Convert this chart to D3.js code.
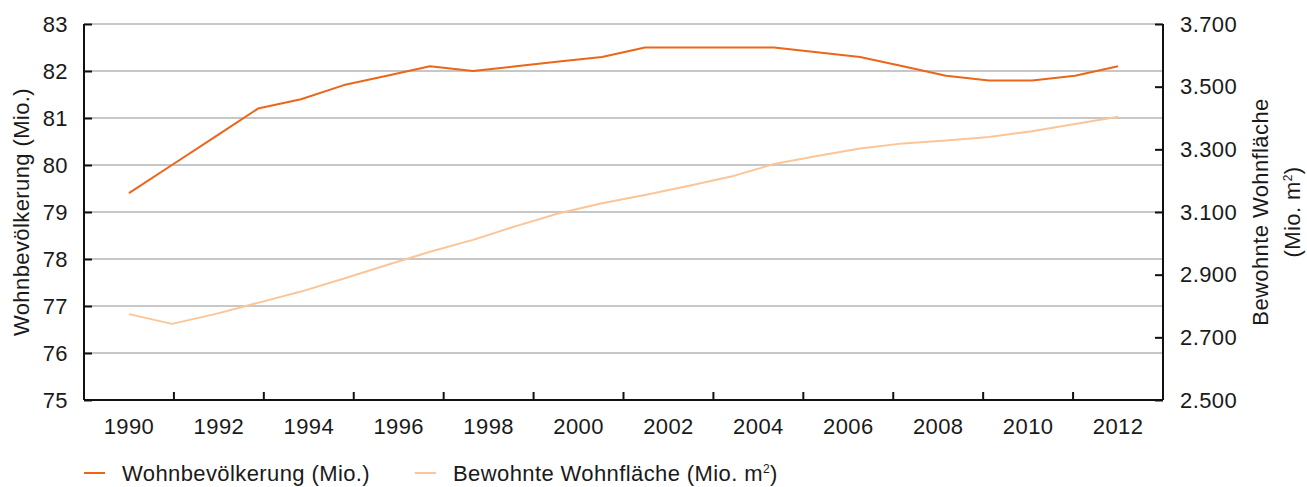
<!DOCTYPE html>
<html lang="de">
<head>
<meta charset="utf-8">
<script src="https://cdn.jsdelivr.net/npm/d3@7"></script>
<style>
  html, body { margin: 0; padding: 0; background: #fff; }
  svg text { font-family: "Liberation Sans", Arial, Helvetica, sans-serif; fill: #1a1a1a; }
</style>
</head>
<body>
<svg id="chart" width="1307" height="487"></svg>
<script>
// Year labels on the category axis
const yearLabels = ["1990", "1992", "1994", "1996", "1998", "2000", "2002", "2004", "2006", "2008", "2010", "2012"];

// Resident population (millions), one value per sample
const population = [79.4, 80.0, 80.6, 81.2, 81.4, 81.7, 81.9, 82.1, 82.0, 82.1, 82.2, 82.3,
                    82.5, 82.5, 82.5, 82.5, 82.4, 82.3, 82.1, 81.9, 81.8, 81.8, 81.9, 82.1];

// Occupied living space (million m²), one value per sample
const livingSpace = [2774, 2743, 2774, 2810, 2846, 2888, 2931, 2973, 3011, 3055, 3096, 3128,
                     3154, 3183, 3213, 3253, 3279, 3303, 3319, 3328, 3339, 3358, 3381, 3404];

// Axis tick values
const leftTicks = [75, 76, 77, 78, 79, 80, 81, 82, 83];
const rightTicks = [2500, 2700, 2900, 3100, 3300, 3500, 3700];

const seriesNames = ["Wohnbevölkerung (Mio.)", "Bewohnte Wohnfläche (Mio. m"];
const colors = { population: "#ec6518", living: "#fbc597", axis: "#111", grid: "#b4b4b4" };

const svg = d3.select("#chart");
const plot = { left: 84, right: 1163, top: 24, bottom: 400 };
const fontSize = 22, letterSpacing = "0.4px";

// Scales
const xBand = d3.scaleBand().domain(yearLabels).range([plot.left, plot.right]).padding(0);
const samples = population.map((_, i) => i);
const xPoint = d3.scalePoint()
  .domain(samples)
  .range([xBand(yearLabels[0]) + xBand.bandwidth() / 2,
          xBand(yearLabels[yearLabels.length - 1]) + xBand.bandwidth() / 2]);
const yLeft = d3.scaleLinear().domain([75, 83]).range([plot.bottom, plot.top]);
const yRight = d3.scaleLinear().domain([2500, 3700]).range([plot.bottom, plot.top]);

const de = d3.formatLocale({ decimal: ",", thousands: ".", grouping: [3], currency: ["", " €"] });
const fmtThousands = de.format(",.0f");

// Horizontal gridlines at the left-axis ticks
svg.append("g")
  .selectAll("line")
  .data(leftTicks.filter(t => t > 75))
  .join("line")
  .attr("x1", plot.left).attr("x2", plot.right)
  .attr("y1", d => yLeft(d)).attr("y2", d => yLeft(d))
  .attr("stroke", colors.grid).attr("stroke-width", 1.5);

// Lines
const lineLiving = d3.line().x((d, i) => xPoint(i)).y(d => yRight(d));
const linePop = d3.line().x((d, i) => xPoint(i)).y(d => yLeft(d));

svg.append("path").datum(livingSpace)
  .attr("d", lineLiving).attr("fill", "none")
  .attr("stroke", colors.living).attr("stroke-width", 2).attr("stroke-linejoin", "round");

svg.append("path").datum(population)
  .attr("d", linePop).attr("fill", "none")
  .attr("stroke", colors.population).attr("stroke-width", 2).attr("stroke-linejoin", "round");

// Left axis
const gLeft = svg.append("g")
  .attr("transform", `translate(${plot.left},0)`)
  .call(d3.axisLeft(yLeft).tickValues(leftTicks).tickSize(-8).tickPadding(16).tickFormat(d3.format("d")));

// Right axis
const gRight = svg.append("g")
  .attr("transform", `translate(${plot.right},0)`)
  .call(d3.axisRight(yRight).tickValues(rightTicks).tickSize(-8).tickPadding(17).tickFormat(fmtThousands));

// Bottom axis: labels centred in each band, ticks on the band edges
const gBottom = svg.append("g")
  .attr("transform", `translate(0,${plot.bottom})`)
  .call(d3.axisBottom(xBand).tickSize(0).tickPadding(18));
gBottom.append("g")
  .selectAll("line")
  .data(yearLabels.slice(1))
  .join("line")
  .attr("x1", d => xBand(d)).attr("x2", d => xBand(d))
  .attr("y1", 0).attr("y2", -8)
  .attr("stroke", colors.axis).attr("stroke-width", 2);

[gLeft, gRight, gBottom].forEach(g => {
  g.select(".domain").attr("stroke", colors.axis).attr("stroke-width", 2);
  g.selectAll(".tick line").attr("stroke", colors.axis).attr("stroke-width", 2);
  g.selectAll("text")
    .attr("font-size", fontSize)
    .attr("letter-spacing", letterSpacing)
    .attr("fill", "#1a1a1a")
    .style("font-family", '"Liberation Sans", Arial, sans-serif');
});
// Straight, un-capped domain paths
gLeft.select(".domain").attr("d", `M0,${plot.top}V${plot.bottom}`);
gRight.select(".domain").attr("d", `M0,${plot.top}V${plot.bottom}`);
gBottom.select(".domain").attr("d", `M${plot.left},0H${plot.right}`);

// Axis titles
const midY = (plot.top + plot.bottom) / 2;
svg.append("text")
  .attr("transform", `translate(29,${midY}) rotate(-90)`)
  .attr("text-anchor", "middle")
  .attr("font-size", fontSize).attr("letter-spacing", letterSpacing)
  .text("Wohnbevölkerung (Mio.)");

svg.append("text")
  .attr("transform", `translate(1268,${midY}) rotate(-90)`)
  .attr("text-anchor", "middle")
  .attr("font-size", fontSize).attr("letter-spacing", letterSpacing)
  .text("Bewohnte Wohnfläche");

const rt = svg.append("text")
  .attr("transform", `translate(1300,${midY}) rotate(-90)`)
  .attr("text-anchor", "middle")
  .attr("font-size", fontSize).attr("letter-spacing", letterSpacing);
rt.append("tspan").text("(Mio. m");
rt.append("tspan").attr("font-size", 12).attr("dy", -8).text("2");
rt.append("tspan").attr("dy", 8).text(")");

// Legend
const legend = svg.append("g").attr("transform", "translate(0,473)");
const legendItems = [
  { name: seriesNames[0], color: colors.population, x: 84, sup: false },
  { name: seriesNames[1], color: colors.living, x: 415, sup: true }
];
legendItems.forEach(item => {
  legend.append("line")
    .attr("x1", item.x).attr("x2", item.x + 21)
    .attr("y1", 0).attr("y2", 0)
    .attr("stroke", item.color).attr("stroke-width", 2);
  const t = legend.append("text")
    .attr("x", item.x + 38).attr("y", 8)
    .attr("font-size", fontSize).attr("letter-spacing", letterSpacing);
  t.append("tspan").text(item.name);
  if (item.sup) {
    t.append("tspan").attr("font-size", 12).attr("dy", -8).text("2");
    t.append("tspan").attr("dy", 8).text(")");
  }
});
</script>
</body>
</html>
